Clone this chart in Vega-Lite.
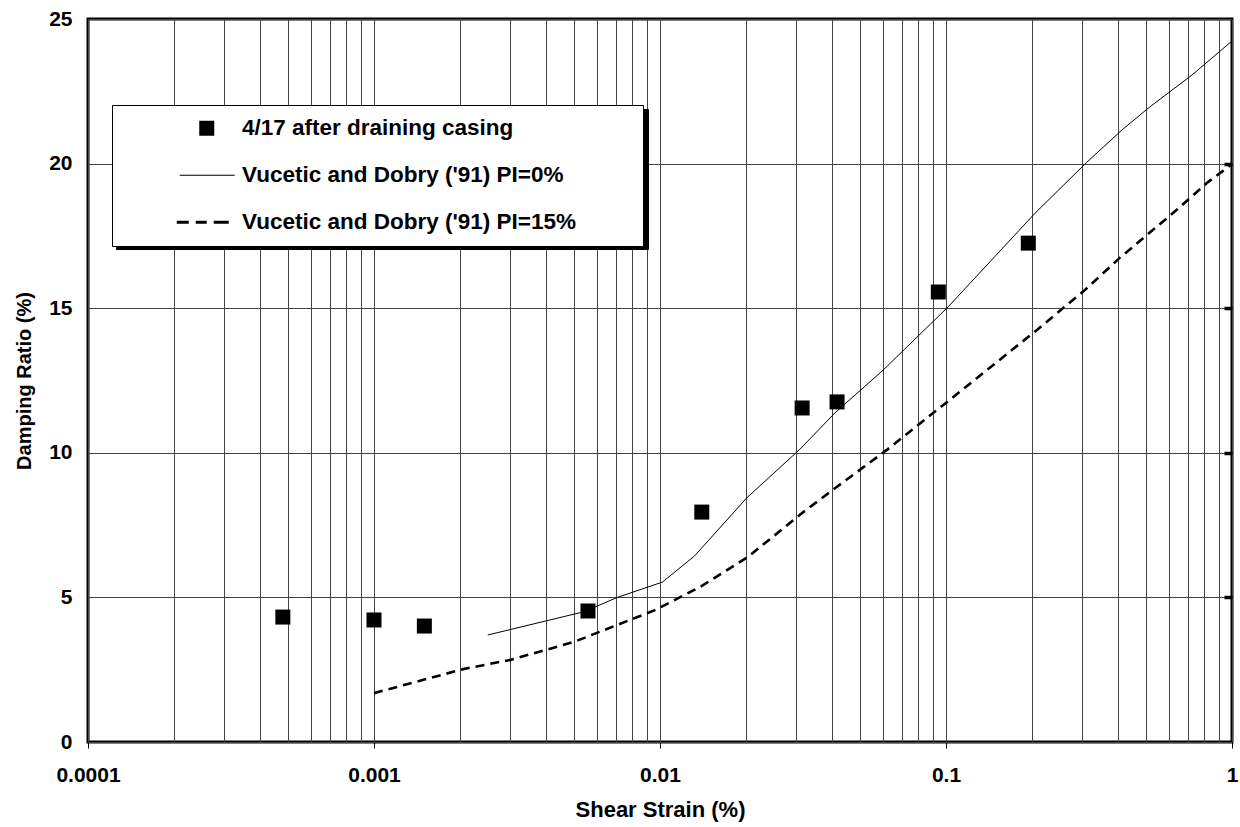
{
  "$schema": "https://vega.github.io/schema/vega-lite/v6.json",
  "width": 1144,
  "height": 723,
  "autosize": "none",
  "padding": {"left": 88, "top": 19, "right": 8, "bottom": 85},
  "background": "white",
  "config": {
    "view": {"stroke": "black", "strokeWidth": 3},
    "font": "Liberation Sans",
    "axis": {
      "labelFont": "Liberation Sans",
      "labelFontWeight": "bold",
      "labelColor": "black",
      "titleFont": "Liberation Sans",
      "titleFontWeight": "bold",
      "titleColor": "black",
      "domain": false,
      "gridColor": "#444444",
      "gridWidth": 1,
      "gridOpacity": 1
    }
  },
  "datasets": {
    "points": [
      {"strain": 0.00048, "damping": 4.32, "series": "4/17 after draining casing"},
      {"strain": 0.001, "damping": 4.22, "series": "4/17 after draining casing"},
      {"strain": 0.0015, "damping": 4.01, "series": "4/17 after draining casing"},
      {"strain": 0.0056, "damping": 4.53, "series": "4/17 after draining casing"},
      {"strain": 0.014, "damping": 7.95, "series": "4/17 after draining casing"},
      {"strain": 0.0314, "damping": 11.55, "series": "4/17 after draining casing"},
      {"strain": 0.0416, "damping": 11.76, "series": "4/17 after draining casing"},
      {"strain": 0.094, "damping": 15.56, "series": "4/17 after draining casing"},
      {"strain": 0.194, "damping": 17.25, "series": "4/17 after draining casing"}
    ],
    "pi0": [
      {"strain": 0.0025, "damping": 3.7},
      {"strain": 0.0054, "damping": 4.5},
      {"strain": 0.0071, "damping": 5.0},
      {"strain": 0.0102, "damping": 5.53},
      {"strain": 0.0132, "damping": 6.43},
      {"strain": 0.0201, "damping": 8.44},
      {"strain": 0.0309, "damping": 10.13},
      {"strain": 0.0409, "damping": 11.38},
      {"strain": 0.0603, "damping": 12.86},
      {"strain": 0.1016, "damping": 15.04},
      {"strain": 0.205, "damping": 18.29},
      {"strain": 0.311, "damping": 20.05},
      {"strain": 0.412, "damping": 21.16},
      {"strain": 0.516, "damping": 21.96},
      {"strain": 0.724, "damping": 23.06},
      {"strain": 1.0, "damping": 24.24}
    ],
    "pi15": [
      {"strain": 0.001, "damping": 1.69, "curve": "Vucetic and Dobry ('91) PI=15%"},
      {"strain": 0.00205, "damping": 2.52, "curve": "Vucetic and Dobry ('91) PI=15%"},
      {"strain": 0.003, "damping": 2.84, "curve": "Vucetic and Dobry ('91) PI=15%"},
      {"strain": 0.005, "damping": 3.46, "curve": "Vucetic and Dobry ('91) PI=15%"},
      {"strain": 0.0096, "damping": 4.56, "curve": "Vucetic and Dobry ('91) PI=15%"},
      {"strain": 0.0138, "damping": 5.36, "curve": "Vucetic and Dobry ('91) PI=15%"},
      {"strain": 0.0203, "damping": 6.4, "curve": "Vucetic and Dobry ('91) PI=15%"},
      {"strain": 0.0317, "damping": 7.95, "curve": "Vucetic and Dobry ('91) PI=15%"},
      {"strain": 0.041, "damping": 8.78, "curve": "Vucetic and Dobry ('91) PI=15%"},
      {"strain": 0.0621, "damping": 10.1, "curve": "Vucetic and Dobry ('91) PI=15%"},
      {"strain": 0.103, "damping": 11.83, "curve": "Vucetic and Dobry ('91) PI=15%"},
      {"strain": 0.157, "damping": 13.28, "curve": "Vucetic and Dobry ('91) PI=15%"},
      {"strain": 0.208, "damping": 14.25, "curve": "Vucetic and Dobry ('91) PI=15%"},
      {"strain": 0.306, "damping": 15.63, "curve": "Vucetic and Dobry ('91) PI=15%"},
      {"strain": 0.405, "damping": 16.74, "curve": "Vucetic and Dobry ('91) PI=15%"},
      {"strain": 0.622, "damping": 18.29, "curve": "Vucetic and Dobry ('91) PI=15%"},
      {"strain": 0.824, "damping": 19.36, "curve": "Vucetic and Dobry ('91) PI=15%"},
      {"strain": 1.0, "damping": 19.98, "curve": "Vucetic and Dobry ('91) PI=15%"}
    ]
  },
  "encoding": {
    "x": {
      "field": "strain",
      "type": "quantitative",
      "scale": {"type": "log", "domain": [0.0001, 1], "nice": false},
      "axis": {
        "values": [0.0001, 0.0002, 0.0003, 0.0004, 0.0005, 0.0006, 0.0007, 0.0008, 0.0009,
                   0.001, 0.002, 0.003, 0.004, 0.005, 0.006, 0.007, 0.008, 0.009,
                   0.01, 0.02, 0.03, 0.04, 0.05, 0.06, 0.07, 0.08, 0.09,
                   0.1, 0.2, 0.3, 0.4, 0.5, 0.6, 0.7, 0.8, 0.9, 1],
        "format": "~g",
        "labelExpr": "indexof([0.0001, 0.001, 0.01, 0.1, 1], datum.value) >= 0 ? datum.label : ''",
        "labelFlush": false,
        "labelOverlap": false,
        "tickOpacity": {"condition": {"test": "indexof([0.0001, 0.001, 0.01, 0.1, 1], datum.value) >= 0", "value": 1}, "value": 0},
        "tickSize": 6,
        "tickColor": "black",
        "labelPadding": 16,
        "labelFontSize": 21,
        "title": "Shear Strain (%)",
        "titleFontSize": 22,
        "titlePadding": 14,
        "grid": true
      }
    }
  },
  "layer": [
    {
      "data": {"name": "pi15"},
      "mark": {"type": "line", "color": "black", "strokeWidth": 2.6, "strokeDash": [9, 6]},
      "encoding": {
        "y": {
          "field": "damping",
          "type": "quantitative",
          "scale": {"domain": [0, 25], "nice": false},
          "axis": {
            "values": [0, 5, 10, 15, 20, 25],
            "ticks": false,
            "tickSize": 0,
            "labelPadding": 16,
            "labelFontSize": 21,
            "title": "Damping Ratio (%)",
            "titleFontSize": 20,
            "titlePadding": 14,
            "grid": true
          }
        },
        "opacity": {
          "field": "curve",
          "type": "ordinal",
          "scale": {"range": [1, 1]},
          "legend": {
            "orient": "none",
            "legendX": 28,
            "legendY": 90,
            "title": null,
            "fillColor": "black",
            "strokeColor": "black",
            "padding": 0,
            "symbolType": "M-1,-1M531,139",
            "symbolSize": 4,
            "symbolStrokeWidth": 0,
            "symbolFillColor": "black",
            "labelExpr": "''",
            "labelFontSize": 1,
            "labelOffset": 0
          }
        }
      }
    },
    {
      "data": {"name": "pi0"},
      "mark": {"type": "line", "color": "black", "strokeWidth": 1},
      "encoding": {
        "y": {
          "field": "damping",
          "type": "quantitative",
          "scale": {"domain": [0, 25], "nice": false},
          "axis": {
            "orient": "right",
            "values": [5, 10, 15, 20],
            "labels": false,
            "grid": false,
            "domain": false,
            "ticks": true,
            "tickSize": -8,
            "tickWidth": 3.5,
            "tickColor": "black",
            "title": null
          }
        }
      }
    },
    {
      "data": {"name": "points"},
      "mark": {"type": "point", "filled": true, "color": "black", "opacity": 1, "size": 225},
      "encoding": {
        "y": {
          "field": "damping",
          "type": "quantitative",
          "scale": {"domain": [0, 25], "nice": false},
          "axis": null
        },
        "shape": {
          "field": "series",
          "type": "nominal",
          "scale": {
            "domain": ["4/17 after draining casing", "Vucetic and Dobry ('91) PI=0%", "Vucetic and Dobry ('91) PI=15%"],
            "range": [
              "M-1,-1H1V1H-1Z",
              "M-3.6,-0.08H3.73V0.08H-3.6ZM56.5,0",
              "M-4,-0.19H-2.4V0.19H-4ZM-1.47,-0.19H0V0.19H-1.47ZM0.93,-0.19H2.93V0.19H0.93Z"
            ]
          },
          "legend": {
            "orient": "none",
            "legendX": 24,
            "legendY": 86,
            "title": null,
            "fillColor": "white",
            "strokeColor": "black",
            "padding": 12,
            "rowPadding": 24,
            "symbolSize": 225,
            "symbolOffset": 71.5,
            "labelOffset": 24,
            "labelFont": "Liberation Sans",
            "labelFontSize": 22.5,
            "labelFontWeight": "bold",
            "labelColor": "black",
            "labelLimit": 1000,
            "symbolFillColor": "black",
            "symbolStrokeWidth": 0,
            "symbolOpacity": 1
          }
        }
      }
    }
  ],
  "resolve": {"axis": {"y": "independent"}}
}
